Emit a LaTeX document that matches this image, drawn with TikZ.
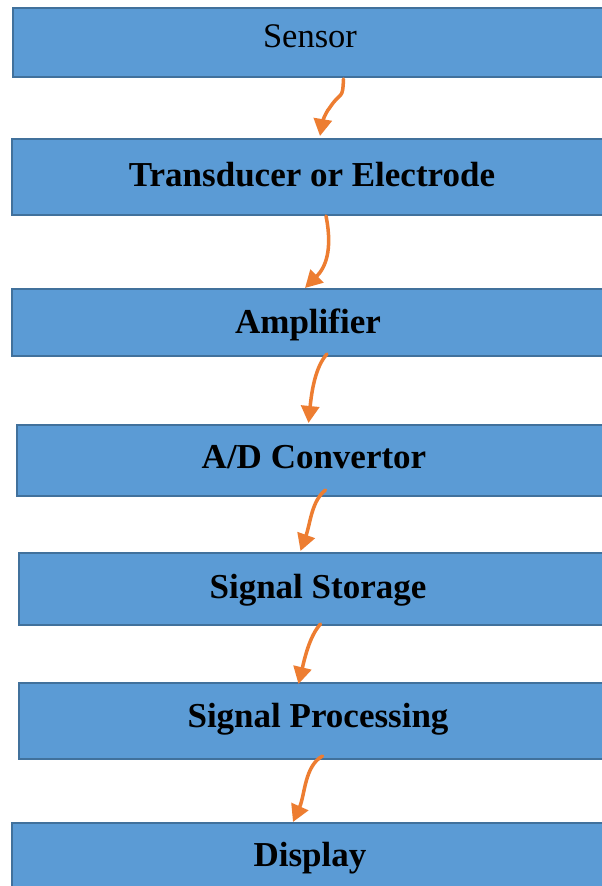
\documentclass[tikz,border=0pt]{standalone}
\usepackage{fontspec}
\setmainfont{Liberation Serif}
\usetikzlibrary{arrows.meta,calc}
\definecolor{boxfill}{HTML}{5B9BD5}
\definecolor{boxline}{HTML}{41719C}
\definecolor{arr}{HTML}{ED7D31}
\begin{document}
\begin{tikzpicture}[x=1pt,y=-1pt,
  stage/.style={draw=boxline,line width=2pt,fill=boxfill,rectangle,inner sep=0pt},
  boldlabel/.style={font=\fontsize{35}{40}\selectfont\bfseries,anchor=base,text=black},
  plainlabel/.style={font=\fontsize{34.5}{40}\selectfont,anchor=base,text=black},
  flow/.style={draw=arr,line width=3.5pt,line cap=round,
    -{Triangle[length=17pt,width=18pt]}}]
\useasboundingbox (0,0) rectangle (602,886);
\fill[white] (0,0) rectangle (602,886);
\clip (0,0) rectangle (602,886);
\node[stage,minimum width=600,minimum height=69] (s1) at (312.5,42.5) {};
\node[plainlabel] (t1) at (310,47) {Sensor};
\node[stage,minimum width=600,minimum height=76] (s2) at (312,177) {};
\node[boldlabel] (t2) at (312,186) {Transducer or Electrode};
\node[stage,minimum width=600,minimum height=67] (s3) at (312,322.5) {};
\node[boldlabel] (t3) at (308,333) {Amplifier};
\node[stage,minimum width=595,minimum height=71] (s4) at (314.5,460.5) {};
\node[boldlabel] (t4) at (314,468) {A/D Convertor};
\node[stage,minimum width=593,minimum height=72] (s5) at (315.5,589) {};
\node[boldlabel] (t5) at (318,598) {Signal Storage};
\node[stage,minimum width=593,minimum height=76] (s6) at (315.5,721) {};
\node[boldlabel] (t6) at (318,727) {Signal Processing};
\node[stage,minimum width=600,minimum height=80] (s7) at (312,863) {};
\node[boldlabel] (t7) at (310,866) {Display};
\draw[flow] ($(s1.south)+(31,1)$) .. controls +(-1,22) and +(12,-18) .. ($(s1.south)+(17,30)$)
  .. controls +(-5,6) and +(2,-12) .. ($(s2.north)+(8,-2)$);
\draw[flow] ($(s2.south)+(14,0)$) .. controls +(7,35) and +(20,-20) .. ($(s3.north)+(-7,0)$);
\draw[flow] ($(s3.south)+(15,-3)$) .. controls +(-12,13) and +(3,-30) .. ($(s4.north)+(-6,-1)$);
\draw[flow] ($(s4.south)+(11,-7)$) .. controls +(-14,11) and +(10,-28) .. ($(s5.north)+(-15,-1)$);
\draw[flow] ($(s5.south)+(5,-2)$) .. controls +(-11,12) and +(6,-25) .. ($(s6.north)+(-17,2)$);
\draw[flow] ($(s6.south)+(7,-4)$) .. controls +(-18,10) and +(12,-27) .. ($(s7.north)+(-19,0)$);
\end{tikzpicture}
\end{document}
